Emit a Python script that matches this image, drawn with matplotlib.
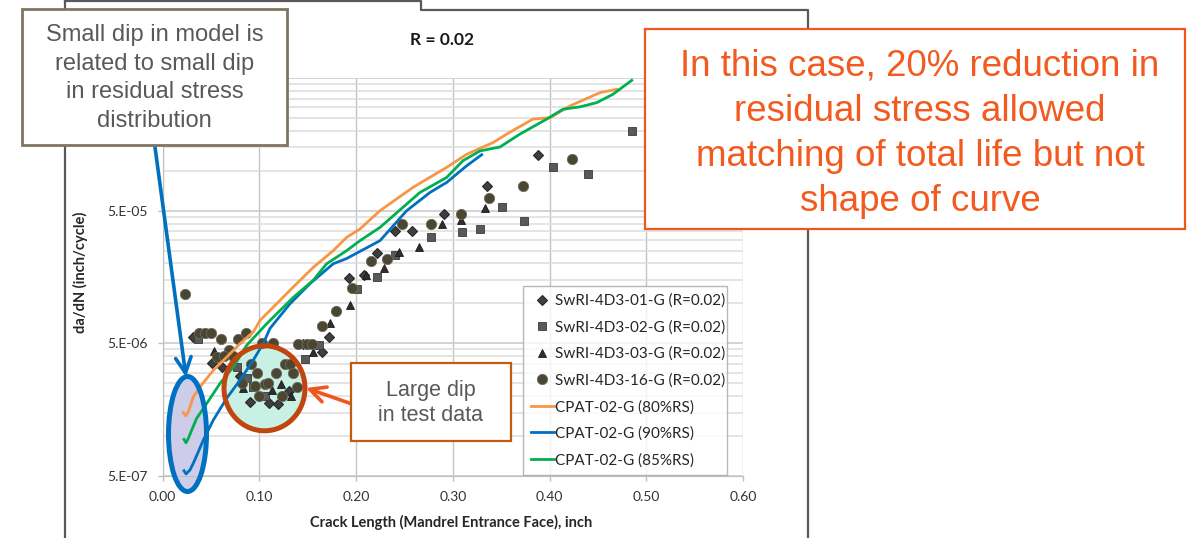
import matplotlib
matplotlib.use('Agg')
import matplotlib.pyplot as plt
from matplotlib.patches import Ellipse, Rectangle
from matplotlib.ticker import FixedLocator, NullFormatter
import numpy as np

chart_font = 'Lato'
box_font = 'Liberation Sans'

# crack length (inch) vs da/dN (inch/cycle)
d01_x = [0.0312, 0.0509, 0.0612, 0.0801, 0.0904, 0.1104, 0.1197, 0.1311, 0.1449, 0.1646,
         0.1721, 0.1796, 0.1932, 0.2083, 0.2222, 0.2398, 0.2583, 0.2914, 0.3350, 0.3885]
d01_y = [5.58e-6, 3.55e-6, 3.32e-6, 2.82e-6, 1.81e-6, 1.76e-6, 1.74e-6, 2.19e-6, 4.97e-6, 4.30e-6,
         5.61e-6, 8.76e-6, 1.56e-5, 1.64e-5, 2.38e-5, 3.50e-5, 3.54e-5, 4.76e-5, 7.62e-5, 1.31e-4]

d02_x = [0.0370, 0.0773, 0.0876, 0.0938, 0.1059, 0.1471, 0.1621, 0.2007, 0.2212, 0.2407,
         0.2773, 0.3099, 0.3285, 0.3510, 0.3735, 0.4041, 0.4401, 0.4853]
d02_y = [5.42e-6, 3.32e-6, 2.74e-6, 2.35e-6, 2.01e-6, 3.82e-6, 4.84e-6, 1.29e-5, 1.59e-5, 2.33e-5,
         3.18e-5, 3.44e-5, 3.65e-5, 5.31e-5, 4.15e-5, 1.07e-4, 9.44e-5, 1.98e-4]

d03_x = [0.0535, 0.0835, 0.1129, 0.1222, 0.1325, 0.1556, 0.1731, 0.1937, 0.2107, 0.2287,
         0.2448, 0.2648, 0.2884, 0.3089, 0.3329]
d03_y = [4.35e-6, 2.31e-6, 2.24e-6, 2.49e-6, 2.00e-6, 4.30e-6, 7.12e-6, 9.70e-6, 1.64e-5, 1.84e-5,
         2.44e-5, 2.68e-5, 3.94e-5, 4.24e-5, 5.21e-5]

d16_x = [0.0233, 0.0380, 0.0439, 0.0501, 0.0602, 0.0783, 0.0863, 0.0560, 0.0687, 0.0636,
         0.0726, 0.1025, 0.1139, 0.1397, 0.1490, 0.1542, 0.0912, 0.0974, 0.1173, 0.1266,
         0.1318, 0.1352, 0.0819, 0.0956, 0.1059, 0.1094, 0.1001, 0.1232, 0.1387, 0.1646,
         0.1796, 0.1957, 0.2157, 0.2322, 0.2472, 0.2773, 0.3089, 0.3375, 0.3725, 0.4237]
d16_y = [1.18e-5, 5.98e-6, 5.98e-6, 5.98e-6, 5.42e-6, 5.42e-6, 5.98e-6, 3.94e-6, 4.48e-6, 3.99e-6,
         3.99e-6, 5.03e-6, 5.03e-6, 4.97e-6, 4.97e-6, 4.97e-6, 3.48e-6, 2.99e-6, 2.99e-6, 3.48e-6,
         3.48e-6, 2.99e-6, 2.51e-6, 2.38e-6, 2.49e-6, 2.51e-6, 2.01e-6, 2.01e-6, 2.35e-6, 6.71e-6,
         8.76e-6, 1.31e-5, 2.07e-5, 2.17e-5, 3.94e-5, 3.94e-5, 4.71e-5, 6.23e-5, 7.62e-5, 1.23e-4]

rs80_x = [0.0215, 0.0240, 0.0267, 0.0318, 0.0388, 0.0525, 0.0664, 0.0801, 0.0938, 0.1008,
          0.1180, 0.1352, 0.1559, 0.1765, 0.1904, 0.2041, 0.2248, 0.2589, 0.2937, 0.3144,
          0.3416, 0.3558, 0.3829, 0.4005, 0.4212, 0.4522, 0.4695]
rs80_y = [1.50e-6, 1.42e-6, 1.52e-6, 1.97e-6, 2.35e-6, 3.13e-6, 3.94e-6, 4.97e-6, 6.08e-6, 7.44e-6,
          9.94e-6, 1.33e-5, 1.87e-5, 2.50e-5, 3.15e-5, 3.64e-5, 5.00e-5, 7.49e-5, 1.06e-4, 1.33e-4,
          1.63e-4, 1.89e-4, 2.45e-4, 2.51e-4, 3.08e-4, 3.88e-4, 4.11e-4]

rs90_x = [0.0222, 0.0243, 0.0284, 0.0318, 0.0370, 0.0422, 0.0525, 0.0664, 0.0801, 0.0938,
          0.1042, 0.1111, 0.1318, 0.1525, 0.1765, 0.1904, 0.2248, 0.2524, 0.2765, 0.2937,
          0.3144, 0.3299]
rs90_y = [5.48e-7, 5.18e-7, 5.55e-7, 6.23e-7, 7.61e-7, 9.33e-7, 1.32e-6, 1.93e-6, 2.64e-6, 3.73e-6,
          5.00e-6, 6.48e-6, 9.94e-6, 1.41e-5, 1.99e-5, 2.18e-5, 2.97e-5, 5.00e-5, 6.86e-5, 8.16e-5,
          1.09e-4, 1.32e-4]

rs85_x = [0.0222, 0.0243, 0.0267, 0.0302, 0.0353, 0.0457, 0.0594, 0.0732, 0.0870, 0.1077,
          0.1352, 0.1556, 0.1697, 0.1904, 0.2041, 0.2248, 0.2661, 0.2937, 0.3106, 0.3282,
          0.3488, 0.3695, 0.3971, 0.4140, 0.4315, 0.4488, 0.4656, 0.4850]
rs85_y = [9.44e-7, 8.90e-7, 9.60e-7, 1.11e-6, 1.36e-6, 1.76e-6, 2.49e-6, 3.32e-6, 4.83e-6, 7.03e-6,
          1.11e-5, 1.49e-5, 1.99e-5, 2.50e-5, 2.97e-5, 3.74e-5, 6.86e-5, 8.90e-5, 1.19e-4, 1.41e-4,
          1.51e-4, 1.89e-4, 2.45e-4, 2.91e-4, 3.03e-4, 3.26e-4, 3.77e-4, 4.80e-4]

x_ticks = [0.0, 0.1, 0.2, 0.3, 0.4, 0.5, 0.6]
y_ticks = [5e-7, 5e-6, 5e-5, 5e-4]
# top label sits under the note box in the original, so it is left blank
y_labels = ['5.E-07', '5.E-06', '5.E-05', '']

W, H = 1188, 538
fig = plt.figure(figsize=(W / 100, H / 100), dpi=100)
fig.patch.set_facecolor('white')

ax = fig.add_axes([162.5 / W, 1 - 476 / H, 580.5 / W, 398 / H])
ax.set_yscale('log')
ax.set_xlim(0, 0.6)
ax.set_ylim(5e-7, 5e-4)

# Excel style log grid: minor lines at 2..9 x the base of each decade
minor = [b * k for b in y_ticks[:-1] for k in range(2, 10)]
ax.yaxis.set_major_locator(FixedLocator(y_ticks))
ax.yaxis.set_minor_locator(FixedLocator(minor))
ax.yaxis.set_minor_formatter(NullFormatter())
ax.set_yticklabels(y_labels)
ax.set_xticks(x_ticks)
ax.set_xticklabels(['%.2f' % v for v in x_ticks])

ax.grid(which='major', axis='y', color='#d0d0d0', lw=1.3)
ax.grid(which='minor', axis='y', color='#dcdcdc', lw=1.1)
ax.grid(which='major', axis='x', color='#c4c4c4', lw=1.0)
ax.set_axisbelow(True)
for s in ['top', 'right']:
    ax.spines[s].set_visible(False)
for s in ['left', 'bottom']:
    ax.spines[s].set_color('#bfbfbf')
ax.tick_params(which='major', length=3.5, width=1, color='#bfbfbf',
               labelsize=10, labelcolor='#333333', pad=7)
ax.tick_params(which='minor', length=0)
for lab in ax.get_xticklabels() + ax.get_yticklabels():
    lab.set_fontfamily(chart_font)

ax.plot(d01_x, d01_y, 'D', ms=5.5, color='#3f3f3f', mec='#262626', mew=0.8,
        label='SwRI-4D3-01-G (R=0.02)', zorder=3)
ax.plot(d02_x, d02_y, 's', ms=5.2, color='#595959', mec='#3a3a3a', mew=0.6,
        label='SwRI-4D3-02-G (R=0.02)', zorder=3)
ax.plot(d03_x, d03_y, '^', ms=6, color='#2e2e2e', mec='#1a1a1a', mew=0.6,
        label='SwRI-4D3-03-G (R=0.02)', zorder=3)
ax.plot(d16_x, d16_y, 'o', ms=7.4, color='#4a4632', mec='#6b6b60', mew=0.6,
        label='SwRI-4D3-16-G (R=0.02)', zorder=3)
ax.plot(rs80_x, rs80_y, '-', color='#F79646', lw=2, label='CPAT-02-G (80%RS)', zorder=3)
ax.plot(rs90_x, rs90_y, '-', color='#0070C0', lw=2, label='CPAT-02-G (90%RS)', zorder=3)
ax.plot(rs85_x, rs85_y, '-', color='#00B050', lw=2, label='CPAT-02-G (85%RS)', zorder=3)

leg = ax.legend(loc='lower left', bbox_to_anchor=(0.6215, 0.0025, 0.3505, 0.483),
                mode='expand', prop={'family': chart_font, 'size': 11},
                frameon=True, fancybox=False, edgecolor='#a6a6a6',
                handlelength=1.5, handletextpad=0.1, labelspacing=0.8,
                borderpad=0.5, borderaxespad=0)
leg.get_frame().set_linewidth(1)
leg.set_zorder(5)
for t in leg.get_texts():
    t.set_color('#262626')

fig.text(442 / W, 1 - 40 / H, 'R = 0.02', ha='center', va='center',
         family=chart_font, weight='bold', size=12.5, color='#1a1a1a')
fig.text(451 / W, 1 - 522 / H, 'Crack Length (Mandrel Entrance Face), inch',
         ha='center', va='center', family=chart_font, weight='bold', size=10.5,
         color='#262626')
fig.text(80 / W, 1 - 272 / H, 'da/dN (inch/cycle)', ha='center', va='center',
         rotation=90, family=chart_font, weight='bold', size=10.5, color='#262626')

# overlay in pixel units for the slide annotations
ov = fig.add_axes([0, 0, 1, 1])
ov.set_xlim(0, W)
ov.set_ylim(H, 0)
ov.axis('off')
ov.patch.set_alpha(0)

frame = '#595959'
ov.plot([65, 65], [0, H], color=frame, lw=1.6, zorder=1)
ov.plot([65, 421, 421, 808, 808], [1, 1, 9.5, 9.5, H], color=frame, lw=1.6, zorder=1)

# highlight fills sit under the data, outlines over it
blue_ell = ((187.5, 434), 38, 115)
dip_ell = ((264.5, 388.3), 81, 85)
ax.add_patch(Ellipse(*blue_ell, fc='#cdcdea', ec='none', transform=ov.transData,
                     clip_on=False, zorder=2))
ax.add_patch(Ellipse(*dip_ell, fc='#c9f1e3', ec='none', transform=ov.transData,
                     clip_on=False, zorder=2))
ov.add_patch(Ellipse(*blue_ell, fc='none', ec='#0070C0', lw=3.6, zorder=2))
ov.add_patch(Ellipse(*dip_ell, fc='none', ec='#C0450E', lw=3.6, zorder=2))

ov.annotate('', xy=(186, 377), xytext=(150, 110),
            arrowprops=dict(arrowstyle='->', color='#0070C0', lw=2.6,
                            mutation_scale=28, shrinkA=0, shrinkB=0), zorder=3)
ov.annotate('', xy=(306, 388), xytext=(352, 404),
            arrowprops=dict(arrowstyle='->', color='#F0571E', lw=2.6,
                            mutation_scale=28, shrinkA=0, shrinkB=0), zorder=3)

ov.add_patch(Rectangle((22, 9), 265, 136, fc='white', ec='#7F7660', lw=2, zorder=5))
ov.text(154.5, 78, 'Small dip in model is\nrelated to small dip\nin residual stress\ndistribution',
        ha='center', va='center', family=box_font, size=17, color='#595959',
        linespacing=1.38, zorder=6)

ov.add_patch(Rectangle((645, 29), 540, 200, fc='white', ec='#F0571E', lw=1.6, zorder=5))
ov.text(920, 134, 'In this case, 20% reduction in\nresidual stress allowed\nmatching of total life but not\nshape of curve',
        ha='center', va='center', family=box_font, size=26.5, color='#F25A1F',
        linespacing=1.38, zorder=6)

ov.add_patch(Rectangle((351, 363), 160, 78, fc='white', ec='#C55A11', lw=1.6, zorder=5))
ov.text(431, 403, 'Large dip\nin test data', ha='center', va='center',
        family=box_font, size=15.5, color='#595959', linespacing=1.3, zorder=6)

fig.savefig('out.png', dpi=100)
